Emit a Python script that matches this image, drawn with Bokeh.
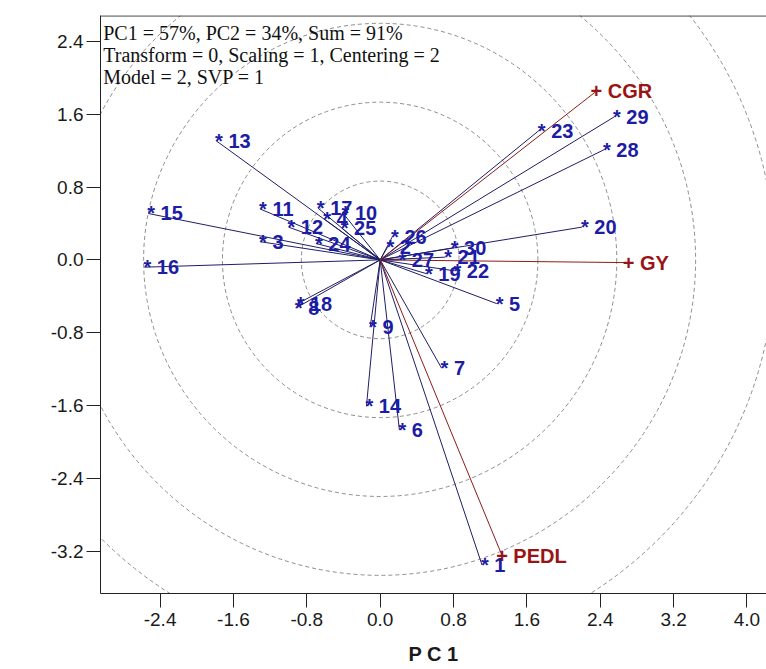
from bokeh.plotting import figure
from bokeh.models import ColumnDataSource, Label, Span, FixedTicker
from bokeh.core.properties import value
from bokeh.embed import file_html
from bokeh.resources import INLINE

# ---- data ----
genotypes = [str(i) for i in range(1, 31)]
geno_pc1 = [1.11, 0.08, -1.31, -0.61, 1.27, 0.21, 0.67, -0.92, -0.11, -0.41,
            -1.31, -1.00, -1.79, -0.15, -2.53, -2.57, -0.68, -0.90, 0.50, 2.20,
            0.71, 0.81, 1.73, -0.70, -0.42, 0.13, 0.21, 2.44, 2.55, 0.78]
geno_pc2 = [-3.35, 0.14, 0.20, 0.45, -0.48, -1.87, -1.19, -0.53, -0.74, 0.52,
            0.56, 0.36, 1.31, -1.61, 0.51, -0.08, 0.57, -0.48, -0.15, 0.36,
            0.03, -0.12, 1.42, 0.18, 0.35, 0.25, 0.00, 1.21, 1.57, 0.13]

traits = ["CGR", "GY", "PEDL"]
trait_pc1 = [2.36, 2.71, 1.33]
trait_pc2 = [1.855, -0.03, -3.25]

circle_radii = [0.86, 1.72, 2.58, 3.44, 4.30]

x_ticks = [-2.4, -1.6, -0.8, 0.0, 0.8, 1.6, 2.4, 3.2, 4.0]
y_ticks = [-3.2, -2.4, -1.6, -0.8, 0.0, 0.8, 1.6, 2.4]

info_lines = ["PC1 = 57%, PC2 = 34%, Sum = 91%",
              "Transform = 0, Scaling = 1, Centering = 2",
              "Model = 2, SVP = 1"]

X0, X1 = -3.05, 4.213
Y0, Y1 = -3.665, 2.685

p = figure(width=766, height=669, output_backend="svg", toolbar_location=None,
           x_range=(X0, X1), y_range=(Y0, Y1),
           min_border_left=100, min_border_top=15, min_border_right=0,
           min_border_bottom=76)
p.xgrid.visible = False
p.ygrid.visible = False
p.outline_line_color = None
p.background_fill_color = "white"

# axes
for ax in (p.xaxis[0], p.yaxis[0]):
    ax.axis_line_color = "#222222"
    ax.axis_line_width = 1
    ax.major_tick_line_color = "#222222"
    ax.major_tick_out = 14
    ax.major_tick_in = 0
    ax.minor_tick_line_color = None
    ax.major_label_text_font = "Liberation Sans"
    ax.major_label_text_font_size = "19px"
    ax.major_label_text_color = "#1a1a1a"
p.xaxis.ticker = FixedTicker(ticks=x_ticks)
p.yaxis.ticker = FixedTicker(ticks=y_ticks)
p.xaxis.major_label_overrides = {t: f"{t:.1f}" for t in x_ticks}
p.yaxis.major_label_overrides = {t: f"{t:.1f}" for t in y_ticks}
p.xaxis.major_label_standoff = 5
p.yaxis.major_label_standoff = 3
p.xaxis.axis_label = "P C 1"
p.xaxis.axis_label_text_font = "Liberation Sans"
p.xaxis.axis_label_text_font_style = "bold"
p.xaxis.axis_label_text_font_size = "20px"
p.xaxis.axis_label_text_color = "#1a1a1a"
p.xaxis.axis_label_standoff = 14

# top border
p.add_layout(Span(location=Y1 - 0.004, dimension="width", line_color="#333333", line_width=1.2))

# concentric dashed circles
p.circle(x=[0.0] * len(circle_radii), y=[0.0] * len(circle_radii), radius=circle_radii,
         fill_color=None, line_color="#8c8c8c", line_dash="4 3", line_width=1)

# genotype vectors
gsrc = ColumnDataSource(dict(x0=[0.0] * len(genotypes), y0=[0.0] * len(genotypes),
                             x=geno_pc1, y=geno_pc2,
                             lab=["* " + g for g in genotypes]))
p.segment(x0="x0", y0="y0", x1="x", y1="y", source=gsrc, line_color="#1e1e66", line_width=1)

# trait vectors
tsrc = ColumnDataSource(dict(x0=[0.0] * len(traits), y0=[0.0] * len(traits),
                             x=trait_pc1, y=trait_pc2,
                             lab=["+ " + t for t in traits]))
p.segment(x0="x0", y0="y0", x1="x", y1="y", source=tsrc, line_color="#8b1c1c", line_width=1)

p.text(x="x", y="y", text="lab", source=gsrc, text_font=value("Liberation Sans"),
       text_font_style="bold", text_font_size="20px", text_color="#1c1ca4",
       text_align="left", text_baseline="middle", x_offset=-1)
p.text(x="x", y="y", text="lab", source=tsrc, text_font=value("Liberation Sans"),
       text_font_style="bold", text_font_size="20px", text_color="#991414",
       text_align="left", text_baseline="middle", x_offset=-6)

# info text
info_y = [2.489, 2.247, 2.005]
for txt, yy in zip(info_lines, info_y):
    p.add_layout(Label(x=X0 + 0.03, y=yy, text=txt, text_font="Liberation Serif",
                       text_font_size="20px", text_color="#111111",
                       text_baseline="alphabetic", text_align="left"))

# vertical stacked y-axis label
for ch, yy in zip(["P", "C", "2"], [-0.115, -0.357, -0.6]):
    p.add_layout(Label(x=X0 - 0.835, y=yy, text=ch, text_font="Liberation Sans",
                       text_font_style="bold", text_font_size="20px", text_color="#1a1a1a",
                       text_align="center", text_baseline="middle"))

open("out.html", "w").write(file_html(p, INLINE))
